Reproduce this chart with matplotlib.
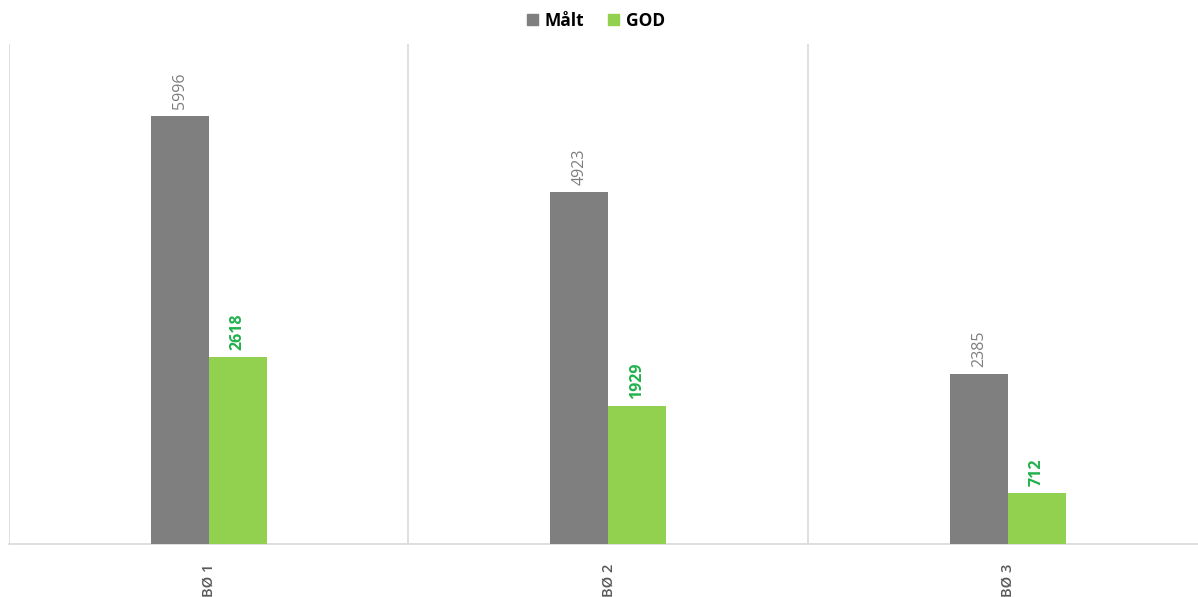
import matplotlib
matplotlib.use("Agg")
import matplotlib.pyplot as plt
from matplotlib.patches import Patch
import numpy as np

plt.rcParams['font.family'] = ['Open Sans', 'DejaVu Sans']

categories = ["BØ 1", "BØ 2", "BØ 3"]
malt = [5996, 4923, 2385]
god = [2618, 1929, 712]

gray = "#7f7f7f"
green = "#92d050"
green_text = "#22b14c"
grid = "#d9d9d9"

W, H = 1198, 597
fig = plt.figure(figsize=(W / 100, H / 100), dpi=100)
ax = fig.add_axes([9 / W, (H - 544) / H, 1189 / W, 500 / H])

x = np.arange(len(categories))
bw = 0.145
ax.bar(x - bw / 2, malt, bw, color=gray, label="Målt", zorder=3)
ax.bar(x + bw / 2, god, bw, color=green, label="GOD", zorder=3)

for xi, v in zip(x, malt):
    ax.annotate(str(v), (xi - bw / 2, v), xytext=(0, 5), textcoords="offset points",
                rotation=90, ha="center", va="bottom", fontsize=11.5, color=gray)
for xi, v in zip(x, god):
    ax.annotate(str(v), (xi + bw / 2, v), xytext=(0, 5), textcoords="offset points",
                rotation=90, ha="center", va="bottom", fontsize=11.5, color=green_text,
                fontweight="bold")

ax.set_xlim(-0.5, -0.5 + 1189 / 399.5)
ax.set_ylim(0, 7000)
ax.set_yticks([])
ax.set_xticks(x)
ax.set_xticklabels(categories, rotation=90, fontsize=10.5, color="#595959", fontweight="semibold")
ax.tick_params(axis="x", length=0, pad=14)

for b in [-0.5, 0.5, 1.5]:
    ax.axvline(b, color=grid, lw=1.2, zorder=1)

for s in ["top", "right", "left"]:
    ax.spines[s].set_visible(False)
ax.spines["bottom"].set_color(grid)
ax.spines["bottom"].set_linewidth(1.2)

handles = [Patch(color=gray, label="Målt"), Patch(color=green, label="GOD")]
fig.legend(handles=handles, loc="center", bbox_to_anchor=(596 / W, 1 - 21 / H), ncol=2,
           frameon=False, prop={"weight": "bold", "size": 12.5}, handlelength=0.6,
           handleheight=0.6, handletextpad=0.4, columnspacing=1.4)

fig.savefig("out.png", dpi=100)
